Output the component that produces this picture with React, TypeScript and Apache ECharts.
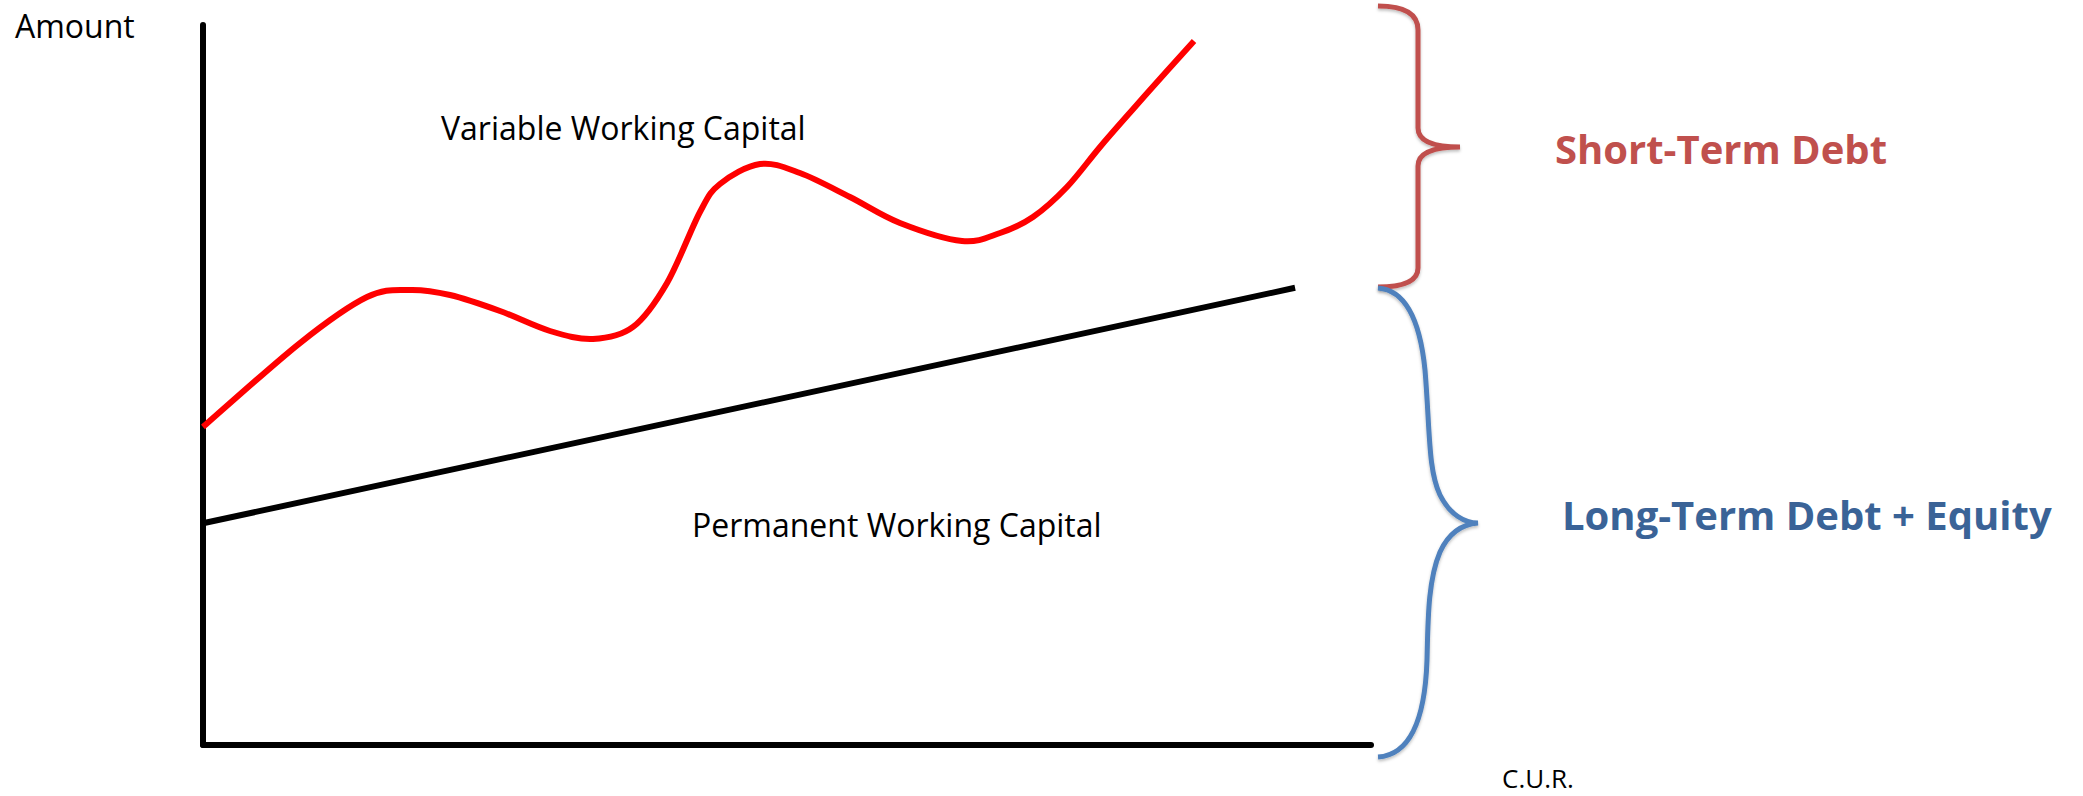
import React, { useEffect, useRef } from "react";
import * as echarts from "echarts";

// Variable working capital curve (red), in axis units (x: 0..100, y: 0..100)
const variableX = [0, 8.3, 14.04, 17.72, 21.15, 25.43, 29.71, 33.39, 36.82, 39.73, 42.55, 44.26, 47.69, 51.11, 55.39, 59.67, 64.98, 68.24, 71.06, 73.97, 76.8, 79.62, 82.53, 84.85];
const variableY = [44.17, 55.83, 62.22, 63.2, 62.5, 60.28, 57.5, 56.39, 58.06, 64.17, 74.03, 77.92, 80.69, 79.44, 76.11, 72.5, 70.0, 71.11, 73.33, 77.5, 83.06, 88.3, 93.6, 97.78];

// Permanent working capital line (black)
const permanentX = [0, 93.5];
const permanentY = [30.8, 63.5];

const labels = {
  yAxis: "Amount",
  xAxis: "C.U.R.",
  variable: "Variable Working Capital",
  permanent: "Permanent Working Capital",
  shortTerm: "Short-Term Debt",
  longTerm: "Long-Term Debt + Equity",
};

const RED_BRACE =
  "M1378 6 C1405 6 1418 14 1418 30 L1418 128 C1418 142 1435 147 1460 147 C1435 147 1418 152 1418 166 L1418 268 C1418 280 1405 287 1378 287";
const BLUE_BRACE =
  "M1378 288 C1405 290 1420 320 1425 370 C1430 430 1428 470 1440 495 C1450 515 1465 523 1478 523 C1465 524 1450 530 1440 552 C1428 580 1428 620 1427 660 C1425 720 1410 755 1378 757";

let registered = false;
function registerShapes() {
  if (registered) return;
  registered = true;
  echarts.graphic.registerShape("braceRed", echarts.graphic.extendPath(RED_BRACE, {}) as any);
  echarts.graphic.registerShape("braceBlue", echarts.graphic.extendPath(BLUE_BRACE, {}) as any);
}

// Catmull-Rom spline through pixel points -> SVG path data
function splinePath(pts: number[][]): string {
  if (pts.length < 2) return "";
  let d = `M${pts[0][0]} ${pts[0][1]}`;
  for (let i = 0; i < pts.length - 1; i++) {
    const p0 = pts[i - 1] || pts[i];
    const p1 = pts[i];
    const p2 = pts[i + 1];
    const p3 = pts[i + 2] || p2;
    const c1x = p1[0] + (p2[0] - p0[0]) / 6;
    const c1y = p1[1] + (p2[1] - p0[1]) / 6;
    const c2x = p2[0] - (p3[0] - p1[0]) / 6;
    const c2y = p2[1] - (p3[1] - p1[1]) / 6;
    d += ` C${c1x} ${c1y} ${c2x} ${c2y} ${p2[0]} ${p2[1]}`;
  }
  return d;
}

export default function App() {
  const ref = useRef<HTMLDivElement>(null);

  useEffect(() => {
    if (!ref.current) return;
    registerShapes();
    const chart = echarts.init(ref.current, undefined, { renderer: "svg" });
    const font = "'Open Sans', sans-serif";
    const textEl = (text: string, x: number, y: number, size: number, color: string, weight: string = "normal") => ({
      type: "text",
      x,
      y,
      silent: true,
      style: {
        text,
        fontSize: size,
        fontFamily: font,
        fontWeight: weight,
        fill: color,
        lineHeight: size,
        verticalAlign: "middle",
        align: "left",
      },
    });
    chart.setOption({
      animation: false,
      backgroundColor: "#ffffff",
      grid: { left: 203, right: 712, top: 25, bottom: 51, containLabel: false },
      xAxis: {
        type: "value",
        min: 0,
        max: 100,
        axisLine: { show: true, onZero: false, lineStyle: { color: "#000", width: 6 } },
        axisTick: { show: false },
        axisLabel: { show: false },
        splitLine: { show: false },
      },
      yAxis: {
        type: "value",
        min: 0,
        max: 100,
        axisLine: { show: true, onZero: false, lineStyle: { color: "#000", width: 6 } },
        axisTick: { show: false },
        axisLabel: { show: false },
        splitLine: { show: false },
      },
      series: [
        {
          type: "line",
          name: labels.permanent,
          data: permanentX.map((x, i) => [x, permanentY[i]]),
          showSymbol: false,
          symbol: "none",
          clip: false,
          lineStyle: { color: "#000", width: 6 },
        },
        {
          type: "custom",
          name: labels.variable,
          data: [[variableX[0], variableY[0]]],
          clip: false,
          renderItem: (_params: any, api: any) => {
            const pts = variableX.map((x, i) => api.coord([x, variableY[i]]));
            return {
              type: "path",
              shape: { pathData: splinePath(pts) },
              style: { fill: "none", stroke: "#ff0000", lineWidth: 6 },
            };
          },
        },
      ],
      graphic: [
        {
          type: "braceRed",
          x: 0,
          y: 0,
          silent: true,
          style: {
            fill: "none",
            stroke: "#C0504D",
            lineWidth: 5,
            shadowBlur: 3,
            shadowColor: "rgba(0,0,0,0.25)",
            shadowOffsetY: 2,
          },
        },
        {
          type: "braceBlue",
          x: 0,
          y: 0,
          silent: true,
          style: {
            fill: "none",
            stroke: "#4F81BD",
            lineWidth: 5,
            shadowBlur: 3,
            shadowColor: "rgba(0,0,0,0.25)",
            shadowOffsetY: 2,
          },
        },
        textEl(labels.yAxis, 15, 25, 32, "#000"),
        textEl(labels.variable, 441, 127, 32, "#000"),
        textEl(labels.permanent, 692, 524, 32, "#000"),
        textEl(labels.shortTerm, 1555, 148, 40, "#C0504D", "bold"),
        textEl(labels.longTerm, 1562, 514, 40, "#3A6397", "bold"),
        textEl(labels.xAxis, 1502, 778, 26, "#000"),
      ],
    });
    return () => chart.dispose();
  }, []);

  return (
    <div
      ref={ref}
      style={{ position: "fixed", left: 0, top: 0, width: 2083, height: 796, background: "#fff" }}
    />
  );
}
